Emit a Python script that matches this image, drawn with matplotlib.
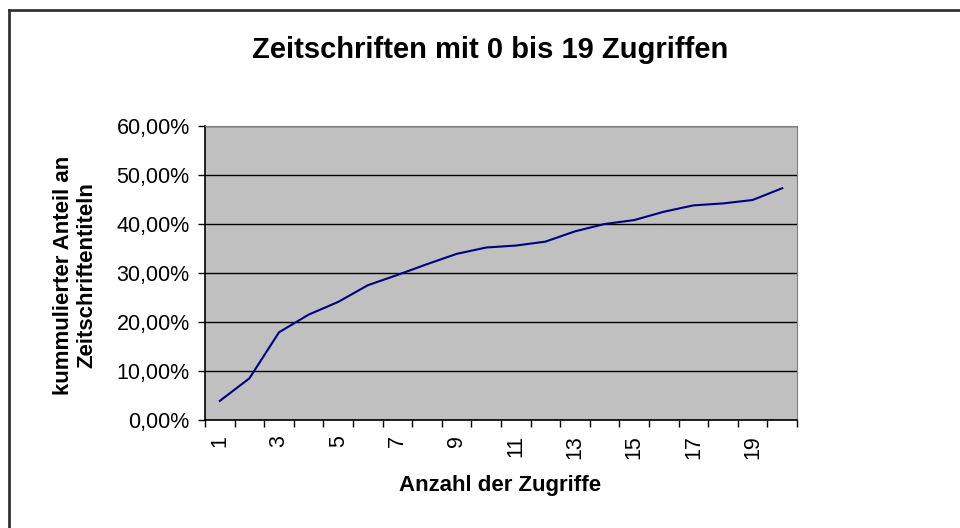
import matplotlib
matplotlib.use("Agg")
import matplotlib.pyplot as plt
from matplotlib.ticker import FuncFormatter, FixedLocator
import numpy as np

plt.rcParams["font.family"] = ["Liberation Sans", "DejaVu Sans"]

# kumulierter Anteil je Anzahl Zugriffe (Kategorien 1..20)
categories = list(range(1, 21))
anteil = [3.9, 8.5, 17.9, 21.5, 24.1, 27.5, 29.6, 31.8, 33.9, 35.2,
          35.6, 36.4, 38.5, 40.0, 40.8, 42.5, 43.8, 44.2, 44.9, 47.3]
tick_labels = [str(c) if c % 2 == 1 else "" for c in categories]

fig = plt.figure(figsize=(9.6, 5.28), dpi=100)
fig.patch.set_facecolor("white")

# outer chart frame (Excel chart area)
fig.add_artist(plt.Line2D([8.5 / 960, 8.5 / 960], [0, 1 - 10 / 528],
                          color="#333333", lw=2, transform=fig.transFigure))
fig.add_artist(plt.Line2D([8.5 / 960, 1], [1 - 10 / 528, 1 - 10 / 528],
                          color="#333333", lw=2, transform=fig.transFigure))

ax = fig.add_axes([205 / 960, 1 - 420 / 528, 592 / 960, 294 / 528])
ax.set_facecolor("#C0C0C0")

x = np.arange(len(categories))
ax.plot(x, anteil, color="#000080", lw=1.5, zorder=3)

ax.set_xlim(-0.5, len(categories) - 0.5)
ax.set_ylim(0, 60)
ax.set_yticks(np.arange(0, 61, 10))
ax.yaxis.set_major_formatter(FuncFormatter(lambda v, p: f"{v:.2f}%".replace(".", ",")))
ax.grid(axis="y", color="black", lw=1)

ax.xaxis.set_major_locator(FixedLocator(np.arange(-0.5, len(categories), 1)))
ax.set_xticklabels([])
ax.xaxis.set_minor_locator(FixedLocator(x))
ax.set_xticklabels(tick_labels, minor=True, rotation=90, fontsize=15.5)
ax.tick_params(axis="x", which="major", length=5, width=1, direction="out")
ax.tick_params(axis="x", which="minor", length=0, pad=11)
ax.tick_params(axis="y", length=5, width=1, labelsize=15.5, pad=6)

for side in ["top", "right"]:
    ax.spines[side].set_color("#808080")
for side in ["left", "bottom"]:
    ax.spines[side].set_color("black")
    ax.spines[side].set_linewidth(1.2)

fig.text(490 / 960, 1 - 50 / 528, "Zeitschriften mit 0 bis 19 Zugriffen",
         ha="center", va="center", fontsize=21, fontweight="bold")
fig.text(75 / 960, 1 - 275 / 528, "kummulierter Anteil an\nZeitschriftentiteln",
         ha="center", va="center", rotation=90, fontsize=16,
         fontweight="bold", linespacing=1.15)
fig.text(500 / 960, 1 - 486 / 528, "Anzahl der Zugriffe",
         ha="center", va="center", fontsize=16, fontweight="bold")

fig.savefig("out.png", dpi=100)
